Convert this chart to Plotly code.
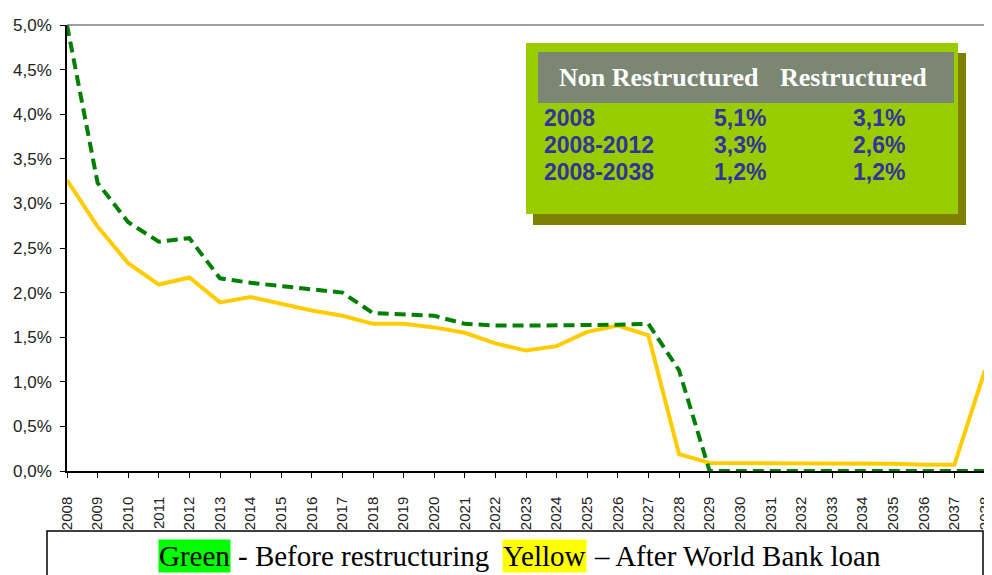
import plotly.graph_objects as go

years = list(range(2008, 2039))
before = [5.0, 3.23, 2.79, 2.57, 2.61, 2.16, 2.11, 2.07, 2.04, 2.0, 1.77, 1.75, 1.74, 1.65, 1.63, 1.63,
          1.63, 1.64, 1.64, 1.65, 1.13, 0.0, 0.0, 0.0, 0.0, 0.0, 0.0, 0.0, 0.0, 0.0, 0.0]
after = [3.26, 2.74, 2.33, 2.09, 2.17, 1.89, 1.95, 1.87, 1.80, 1.74, 1.65, 1.65, 1.61, 1.55, 1.43, 1.35,
         1.40, 1.56, 1.63, 1.52, 0.19, 0.09, 0.09, 0.08, 0.08, 0.08, 0.08, 0.08, 0.07, 0.07, 1.13]

y_ticks = [0, 0.5, 1.0, 1.5, 2.0, 2.5, 3.0, 3.5, 4.0, 4.5, 5.0]
y_tick_labels = ["0,0%", "0,5%", "1,0%", "1,5%", "2,0%", "2,5%", "3,0%", "3,5%", "4,0%", "4,5%", "5,0%"]

table_header = ["Non Restructured", "Restructured"]
table_rows = ["2008", "2008-2012", "2008-2038"]
table_non = ["5,1%", "3,3%", "1,2%"]
table_res = ["3,1%", "2,6%", "1,2%"]

OFF = 8  # page body margin
W, H = 992, 575
L, T = 67 - OFF, 25 - OFF
R = W + OFF - 985
B = H + OFF - 471
PW, PH = W - L - R, H - T - B


def px(x):
    return (x - OFF - L) / PW


def py(y):
    return (H - B - (y - OFF)) / PH


fig = go.Figure()
fig.add_trace(go.Scatter(x=years, y=after, mode="lines",
                         line=dict(color="#ffcc00", width=4), showlegend=False))
fig.add_trace(go.Scatter(x=years, y=before, mode="lines",
                         line=dict(color="#008000", width=4, dash="11px,6px"), showlegend=False))

shapes = []
shapes.append(dict(type="line", xref="paper", yref="paper", x0=0, x1=1, y0=1, y1=1,
                   line=dict(color="#808080", width=1.5)))
shapes.append(dict(type="line", xref="paper", yref="paper", x0=1, x1=1, y0=0, y1=1,
                   line=dict(color="#000000", width=1.5)))
shapes.append(dict(type="rect", xref="paper", yref="paper", x0=px(533), x1=px(966), y0=py(225), y1=py(53),
                   fillcolor="#808000", line=dict(width=0), layer="above"))
shapes.append(dict(type="rect", xref="paper", yref="paper", x0=px(526), x1=px(958), y0=py(214), y1=py(43),
                   fillcolor="#99cc00", line=dict(width=0), layer="above"))
shapes.append(dict(type="rect", xref="paper", yref="paper", x0=px(538), x1=px(954), y0=py(103), y1=py(52),
                   fillcolor="#7b8772", line=dict(width=0), layer="above"))
shapes.append(dict(type="rect", xref="paper", yref="paper", x0=px(47), x1=px(983), y0=py(600), y1=py(531),
                   fillcolor="rgba(0,0,0,0)", line=dict(color="#000000", width=1.5)))

ann = []
hfont = dict(family="Liberation Serif", size=26, color="white")
ann.append(dict(text="<b>" + table_header[0] + "</b>", x=px(557), y=py(77), xanchor="left", yanchor="middle",
                xref="paper", yref="paper", showarrow=False, font=hfont))
ann.append(dict(text="<b>" + table_header[1] + "</b>", x=px(778), y=py(77), xanchor="left", yanchor="middle",
                xref="paper", yref="paper", showarrow=False, font=hfont))
rfont = dict(family="Liberation Sans", size=23, color="#333399")
row_y = [118, 145, 172]
for i in range(3):
    ann.append(dict(text="<b>" + table_rows[i] + "</b>", x=px(542), y=py(row_y[i]), xanchor="left",
                    yanchor="middle", xref="paper", yref="paper", showarrow=False, font=rfont))
    ann.append(dict(text="<b>" + table_non[i] + "</b>", x=px(768), y=py(row_y[i]), xanchor="right",
                    yanchor="middle", xref="paper", yref="paper", showarrow=False, font=rfont))
    ann.append(dict(text="<b>" + table_res[i] + "</b>", x=px(907), y=py(row_y[i]), xanchor="right",
                    yanchor="middle", xref="paper", yref="paper", showarrow=False, font=rfont))

lfont = dict(family="Liberation Serif", size=29, color="black")
ly = py(556)
ann.append(dict(text="Green", x=px(158), y=ly, xanchor="left", yanchor="middle", xref="paper", yref="paper",
                showarrow=False, font=lfont, bgcolor="#00ff00", borderpad=0))
ann.append(dict(text="- Before restructuring", x=px(236), y=ly, xanchor="left", yanchor="middle",
                xref="paper", yref="paper", showarrow=False, font=lfont))
ann.append(dict(text="Yellow", x=px(502), y=ly, xanchor="left", yanchor="middle", xref="paper", yref="paper",
                showarrow=False, font=lfont, bgcolor="#ffff00", borderpad=0))
ann.append(dict(text="– After World Bank loan", x=px(592), y=ly, xanchor="left", yanchor="middle",
                xref="paper", yref="paper", showarrow=False, font=lfont))

fig.update_layout(
    width=W, height=H, autosize=False,
    margin=dict(l=L, r=R, t=T, b=B),
    plot_bgcolor="white", paper_bgcolor="white",
    shapes=shapes, annotations=ann,
    xaxis=dict(range=[2008, 2038], tickmode="array", tickvals=years, ticktext=[str(y) for y in years],
               tickangle=-90, ticks="outside", ticklen=5, tickcolor="black", showline=True, linecolor="black",
               linewidth=1.5, showgrid=False, zeroline=False, ticklabelstandoff=13,
               ticklabeloverflow="allow", automargin=False,
               tickfont=dict(family="Liberation Sans", size=15, color="#222")),
    yaxis=dict(range=[0, 5.0], tickmode="array", tickvals=y_ticks, ticktext=y_tick_labels,
               ticks="outside", ticklen=5, tickcolor="black", showline=True, linecolor="black",
               linewidth=1.5, showgrid=False, zeroline=False, ticklabelstandoff=5, automargin=False,
               tickfont=dict(family="Liberation Sans", size=17, color="#222")),
)

fig.write_html("out.html")
